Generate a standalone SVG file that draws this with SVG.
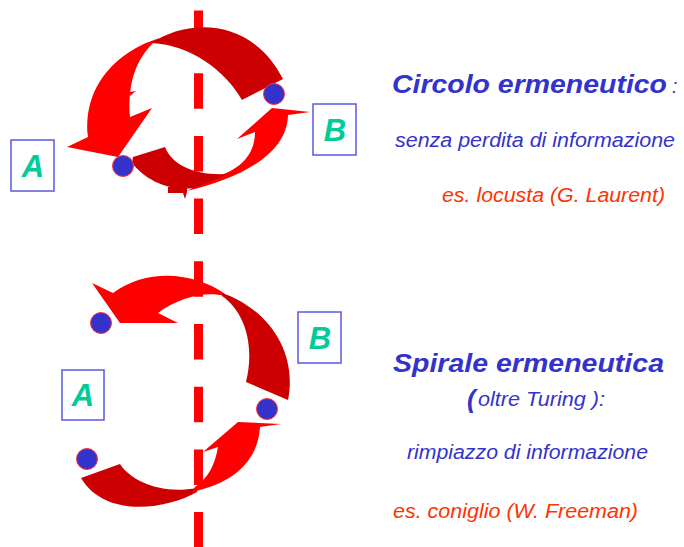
<svg xmlns="http://www.w3.org/2000/svg" width="684" height="547" viewBox="0 0 684 547">
<defs>
<style>
.bright{fill:#FF0000}
.dark{fill:#CC0000}
.dot{fill:#3333CC;stroke:#FF3333;stroke-width:1}
.box{fill:#FFFFFF;stroke:#5A5ADD;stroke-width:1.5}
.letter{font-family:"Liberation Sans",Arial,sans-serif;font-weight:bold;font-style:italic;font-size:31px;fill:#00CC99;text-anchor:middle}
.title{font-family:"Liberation Sans",Arial,sans-serif;font-weight:bold;font-style:italic;font-size:26px;fill:#3333CC}
.sub{font-family:"Liberation Sans",Arial,sans-serif;font-style:italic;font-size:19.5px;fill:#3333CC}
.ex{font-family:"Liberation Sans",Arial,sans-serif;font-style:italic;font-size:19.5px;fill:#FF3300}
</style>
</defs>
<rect width="684" height="547" fill="#FFFFFF"/>
<g id="axis">
<line x1="198.5" y1="10.5" x2="198.5" y2="547" stroke="#FF0000" stroke-width="9" stroke-dasharray="35.5 27.2"/>
</g>
<g id="connectors">
<g id="circle-arrows">
<path class="bright" d="M 160,38 C 125,48 82,80 88,137 L 67,147 L 118,157 L 152,108 L 130,117 C 128,90 132,65 152,44 Z"/>
<path class="bright" d="M 130,96 L 136,91 L 130,92 Z"/>
<path class="dark" d="M 152,43 C 185,20 250,15 283,79 L 242,100 C 225,70 190,45 152,43 Z"/>
<path class="bright" d="M 187,191 C 240,178 287,155 288,115 L 310,112 L 272,108 L 237,139 L 255,132 C 255,155 240,170 215,177 Z"/>
<path class="dark" d="M 133,157 L 165,147 C 172,165 195,176 228,174 L 195,188 C 170,192 145,180 132,163 Z"/>
<path class="dark" d="M 168,187 L 187,187 L 187,192 L 185,199 L 183,193 L 168,193 Z"/>
</g>
<g id="spiral-arrows">
<path class="bright" d="M 225,294 C 200,275 150,265 113,293 L 92,283 L 120,323 L 178,323 L 158,313 C 180,297 205,291 225,296 Z"/>
<path class="dark" d="M 222,293 C 266,308 298,350 288,400 L 246,382 C 255,345 245,312 222,296 Z"/>
<path class="dark" d="M 81,478 L 120,464 C 130,480 160,495 197,488 L 197,492 C 165,510 105,518 81,478 Z"/>
<path class="bright" d="M 192,492 C 235,483 258,460 260,427 L 281,424 L 238,422 L 203,452 L 218,447 C 215,465 208,478 195,487 Z"/>
</g>
</g>
<g id="dots">
<circle class="dot" cx="123" cy="166" r="10.5"/>
<circle class="dot" cx="274" cy="94" r="10.5"/>
<circle class="dot" cx="101" cy="323" r="10.5"/>
<circle class="dot" cx="267" cy="409" r="10.5"/>
<circle class="dot" cx="87" cy="459" r="10.5"/>
</g>
<g id="node-A1">
<rect class="box" x="11" y="140" width="43" height="51"/>
<text class="letter" x="33" y="177">A</text>
</g>
<g id="node-B1">
<rect class="box" x="313" y="104" width="43" height="51"/>
<text class="letter" x="335" y="141">B</text>
</g>
<g id="node-A2">
<rect class="box" x="62" y="370" width="42" height="50"/>
<text class="letter" x="83" y="406">A</text>
</g>
<g id="node-B2">
<rect class="box" x="298" y="312" width="43" height="51"/>
<text class="letter" x="320" y="349">B</text>
</g>
<g id="texts">
<text class="title" x="392" y="93" textLength="275" lengthAdjust="spacingAndGlyphs">Circolo ermeneutico</text>
<text class="sub" x="672" y="93" font-size="15">:</text>
<text class="sub" x="395" y="147" textLength="280" lengthAdjust="spacingAndGlyphs">senza perdita di informazione</text>
<text class="ex" x="442" y="202" textLength="223" lengthAdjust="spacingAndGlyphs">es. locusta (G. Laurent)</text>
<text class="title" x="393" y="372" textLength="271" lengthAdjust="spacingAndGlyphs">Spirale ermeneutica</text>
<text class="title" x="467" y="408" font-size="25">(</text>
<text class="sub" x="478" y="406" textLength="127" lengthAdjust="spacingAndGlyphs">oltre Turing ):</text>
<text class="sub" x="407" y="459" textLength="241" lengthAdjust="spacingAndGlyphs">rimpiazzo di informazione</text>
<text class="ex" x="393" y="518" textLength="245" lengthAdjust="spacingAndGlyphs">es. coniglio (W. Freeman)</text>
</g>
</svg>
